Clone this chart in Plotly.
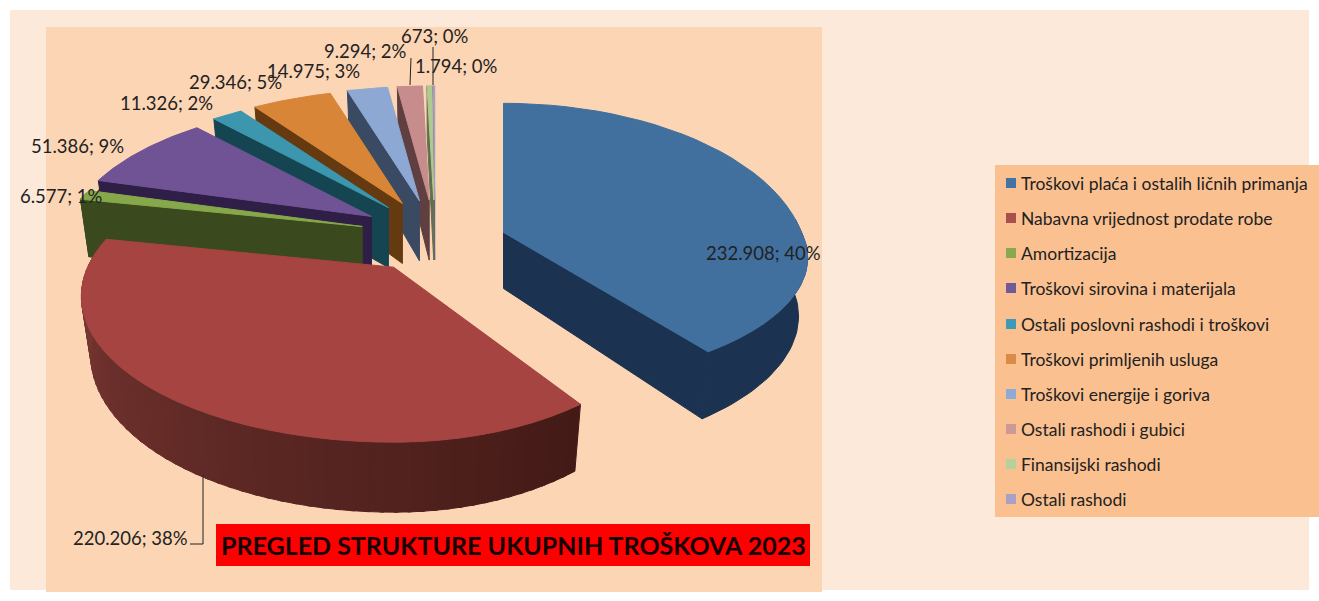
import math
import plotly.graph_objects as go

categories = ["Troškovi plaća i ostalih ličnih primanja", "Nabavna vrijednost prodate robe",
              "Amortizacija", "Troškovi sirovina i materijala", "Ostali poslovni rashodi i troškovi",
              "Troškovi primljenih usluga", "Troškovi energije i goriva", "Ostali rashodi i gubici",
              "Finansijski rashodi", "Ostali rashodi"]
values = [232908, 220206, 6577, 51386, 11326, 29346, 14975, 9294, 1794, 673]
top_colors = ["#41709f", "#a54440", "#86a84a", "#6f5395", "#3b96ae", "#d98538", "#8ca8d3", "#c78c8c", "#afc98f", "#a99cc0"]
wall_colors = ["#1b3350", "#5f2a27", "#3a4a1e", "#2f1f47", "#144551", "#653a10", "#3a4a63", "#5f3f40", "#5f7050", "#6a6080"]
legend_colors = ["#4472a4", "#a94f4c", "#8aa84e", "#6f5a9a", "#3f9ab5", "#d98b47", "#8eaad6", "#cc9898", "#b5d29c", "#a9a0c8"]

label_pos = [(763, 253), (130, 538), (61, 196), (77, 146), (166, 103), (235, 82), (313, 71), (365, 51), (456, 66), (434, 36)]

# projection of the pie
A, B, K = 300, 137, 0.2
CX, CY, EX, EY = 435, 235, 75, 35
H = 60

total = sum(values)
angles = [0]
for v in values:
    angles.append(angles[-1] + 360 * v / total)


def apex(i):
    m = math.radians((angles[i] + angles[i + 1]) / 2)
    ax, ay = CX + EX * math.sin(m), CY - EY * math.cos(m)
    if i == 0:
        return ax - 3, ay + 8
    if i == 1:
        return ax, ay + 3
    return ax, ay


def scale(i, t):
    if i == 0:
        return 298, (155 if math.cos(t) > 0 else 122)
    if i == 1:
        return (306 if math.sin(t) < 0 else 272), 140
    return A, B


def pt(i, deg, r, z):
    ax, ay = apex(i)
    t = math.radians(deg)
    a, b = scale(i, t)
    h = 56 if i < 2 else H
    w = 1 + K * r * math.cos(t)
    x = ax + a * r * math.sin(t) / w * (1 - 0.03 * z)
    y = ay - b * r * math.cos(t) / w + z * h / w
    return x, y


fig = go.Figure()


def poly(points, color):
    xs = [p[0] for p in points] + [points[0][0]]
    ys = [p[1] for p in points] + [points[0][1]]
    fig.add_trace(go.Scatter(x=xs, y=ys, mode="lines", fill="toself", fillcolor=color,
                             line=dict(width=1, color=color), hoverinfo="skip", showlegend=False))


def lerp_color(c1, c2, f):
    a = [int(c1[j:j + 2], 16) for j in (1, 3, 5)]
    b = [int(c2[j:j + 2], 16) for j in (1, 3, 5)]
    return "#%02x%02x%02x" % tuple(round(a[j] + (b[j] - a[j]) * f) for j in range(3))


def arc(i, d1, d2, z, n=40):
    return [pt(i, d1 + (d2 - d1) * s / n, 1, z) for s in range(n + 1)]


def draw(i):
    d1, d2 = angles[i], angles[i + 1]
    # rim wall
    lo, hi = max(d1, 85), min(d2, 285)
    if hi > lo:
        if i == 1:
            steps = 60
            for s in range(steps):
                a1 = lo + (hi - lo) * s / steps
                a2 = min(lo + (hi - lo) * (s + 1.3) / steps, hi)
                color = lerp_color("#431a16", "#7f3a36", s / (steps - 1))
                poly(arc(i, a1, a2, 0, 3) + arc(i, a2, a1, 1, 3), color)
        else:
            poly(arc(i, lo, hi, 0) + arc(i, hi, lo, 1), wall_colors[i])
    # radial wall
    edge = d2 if i == 0 else d1
    if i != 1:
        poly([pt(i, edge, 0, 0), pt(i, edge, 1, 0), pt(i, edge, 1, 1), pt(i, edge, 0, 1)], wall_colors[i])
    # top face
    poly([pt(i, d1, 0, 0)] + arc(i, d1, d2, 0) + [pt(i, d2, 0, 0)], top_colors[i])


for i in [9, 8, 7, 6, 5, 4, 3, 2, 0, 1]:
    draw(i)

# legend swatches
legend_y = [183, 218, 253, 288, 324, 359, 394, 429, 464, 499]
fig.add_trace(go.Scatter(x=[1011] * 10, y=legend_y, mode="markers", hoverinfo="skip", showlegend=False,
                         marker=dict(symbol="square", size=10, color=legend_colors, line=dict(width=0))))

shapes = [
    dict(type="rect", x0=10, x1=1309, y0=10, y1=590, fillcolor="#fde9d9", line_width=0, layer="below"),
    dict(type="rect", x0=46, x1=822, y0=27, y1=592, fillcolor="#fcd5b5", line_width=0, layer="below"),
    dict(type="rect", x0=995, x1=1319, y0=165, y1=517, fillcolor="#fac090", line_width=0, layer="below"),
    dict(type="rect", x0=216, x1=810, y0=524, y1=566, fillcolor="#ff0000", line_width=0, layer="below"),
]
for path in ["M 203 475 L 203 544 L 190 544", "M 410 85 L 411 58", "M 433 85 L 433 47"]:
    shapes.append(dict(type="path", path=path, line=dict(color="#222222", width=1), layer="above"))

annotations = []
for i, (x, y) in enumerate(label_pos):
    txt = f"{values[i]:,}".replace(",", ".") + f"; {round(100 * values[i] / total)}%"
    annotations.append(dict(x=x, y=y, xref="x", yref="y", text=txt, showarrow=False,
                            font=dict(family="Lato", size=18.5, color="#222222")))
for i, name in enumerate(categories):
    annotations.append(dict(x=1019, y=legend_y[i], xref="x", yref="y", text=name, showarrow=False, xanchor="left",
                            font=dict(family="Lato", size=17.5, color="#222222")))
annotations.append(dict(x=513, y=545, xref="x", yref="y", text="<b>PREGLED STRUKTURE UKUPNIH TROŠKOVA 2023</b>",
                        showarrow=False, font=dict(family="Lato", size=25, color="#140000")))

fig.update_layout(width=1319, height=601, margin=dict(l=0, r=0, t=0, b=0), paper_bgcolor="white", plot_bgcolor="white",
                  xaxis=dict(range=[0, 1319], visible=False, fixedrange=True),
                  yaxis=dict(range=[601, 0], visible=False, fixedrange=True),
                  shapes=shapes, annotations=annotations, showlegend=False)
fig.write_html("out.html", config={"displayModeBar": False},
               post_script="document.body.style.margin='0';document.body.style.overflow='hidden';")
